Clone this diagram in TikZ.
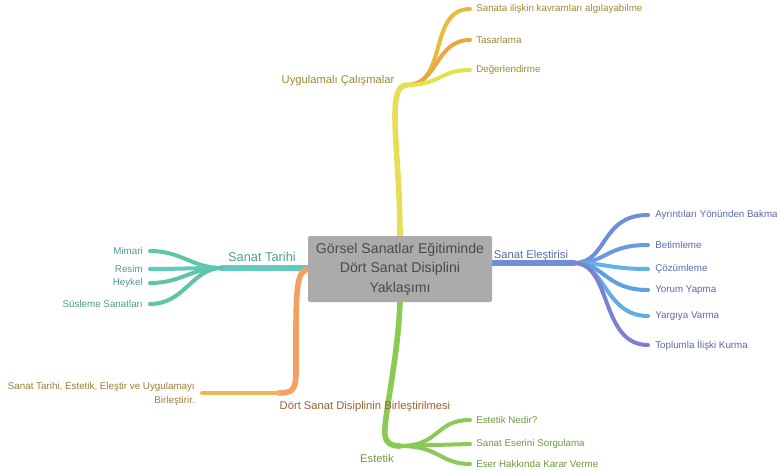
\documentclass[tikz,border=0pt]{standalone}
\usepackage{fontspec}
\setmainfont{Liberation Sans}
\begin{document}
\begin{tikzpicture}[x=0.75pt,y=-0.75pt,
  mainbr/.style={line width=4.2pt, line cap=round},
  leafbr/.style={line width=3pt, line cap=round},
  leaftxt/.style={font=\fontsize{7.35}{8.8}\selectfont, inner sep=0pt},
  brtxt/.style={font=\fontsize{8.4}{9}\selectfont, inner sep=0pt},
  centre/.style={fill=cgray, rounded corners=1.5pt, minimum width=138pt, minimum height=49.5pt,
     align=center, text=ctext, font=\fontsize{10.6}{14.7}\selectfont, inner sep=0pt}]
\definecolor{cgray}{HTML}{ABABAB}
\definecolor{ctext}{HTML}{4A4A4A}
\definecolor{teal1}{HTML}{62C9BE}
\definecolor{teal2}{HTML}{5EC6A6}
\definecolor{tealtxt}{HTML}{4E9C8E}
\definecolor{blue1}{HTML}{6E8FD8}
\definecolor{blue2}{HTML}{6A9BDD}
\definecolor{blue3}{HTML}{62B2EA}
\definecolor{blue4}{HTML}{5E9FE2}
\definecolor{blue5}{HTML}{63ACE7}
\definecolor{blue6}{HTML}{7D80D2}
\definecolor{bluetxt}{HTML}{5869B0}
\definecolor{yel0}{HTML}{E6DF55}
\definecolor{yel1}{HTML}{E9BA3A}
\definecolor{yel2}{HTML}{E9A93E}
\definecolor{yel3}{HTML}{E2E24C}
\definecolor{yeltxt}{HTML}{9A8B35}
\definecolor{ora1}{HTML}{F4A062}
\definecolor{ora2}{HTML}{F2B452}
\definecolor{oratxt}{HTML}{A0602F}
\definecolor{oraleaf}{HTML}{9E7C3A}
\definecolor{grn1}{HTML}{8ACB55}
\definecolor{grntxt}{HTML}{6C9A3C}
\useasboundingbox (0,0) rectangle (777,470);

% junction and branch coordinates
\coordinate (jt) at (222,268);
\coordinate (jb) at (574,263);
\coordinate (jy) at (407,85);
\coordinate (jo) at (279,393);
\coordinate (jg) at (400,446);
\coordinate (ob) at (306,270);

% leaf end coordinates
\coordinate (t1) at (150,251);
\coordinate (t2) at (150,269);
\coordinate (t3) at (150,283);
\coordinate (t4) at (150,304);
\coordinate (b1) at (648,215);
\coordinate (b2) at (648,245);
\coordinate (b3) at (648,269);
\coordinate (b4) at (648,290);
\coordinate (b5) at (648,316);
\coordinate (b6) at (648,345);
\coordinate (y1) at (470,9);
\coordinate (y2) at (470,40);
\coordinate (y3) at (470,70);
\coordinate (o1) at (202,393);
\coordinate (g1) at (470,420);
\coordinate (g2) at (470,444);
\coordinate (g3) at (470,464);

% teal branch
\draw[mainbr, teal1] (308,268) -- (jt);
\draw[leafbr, teal2] (jt) .. controls (192,268) and (182,251) .. (t1);
\draw[leafbr, teal1] (jt) .. controls (190,268) and (180,269) .. (t2);
\draw[leafbr, teal2] (jt) .. controls (190,268) and (182,283) .. (t3);
\draw[leafbr, teal2] (jt) .. controls (192,268) and (185,304) .. (t4);

% blue branch
\draw[mainbr, blue1] (492,263) -- (jb);
\draw[leafbr, blue1] (jb) .. controls (608,263) and (600,215) .. (b1);
\draw[leafbr, blue2] (jb) .. controls (608,263) and (605,245) .. (b2);
\draw[leafbr, blue3] (jb) .. controls (605,263) and (610,269) .. (b3);
\draw[leafbr, blue4] (jb) .. controls (605,263) and (605,290) .. (b4);
\draw[leafbr, blue5] (jb) .. controls (605,263) and (605,316) .. (b5);
\draw[leafbr, blue6] (jb) .. controls (612,263) and (600,345) .. (b6);

% yellow branch
\draw[mainbr, yel0] (400,236) .. controls (400,150) and (385,85) .. (jy);
\draw[leafbr, yel1] (jy) .. controls (448,85) and (428,9) .. (y1);
\draw[leafbr, yel2] (jy) .. controls (438,85) and (435,40) .. (y2);
\draw[leafbr, yel3] (jy) .. controls (440,85) and (440,70) .. (y3);

% orange branch
\draw[mainbr, ora1] (ob) .. controls (296,272) and (296,300) .. (296,340)
   -- (296,372) .. controls (296,390) and (292,393) .. (jo);
\draw[leafbr, ora2] (jo) -- (o1);

% green branch
\draw[mainbr, grn1] (400,302) .. controls (398,360) and (383,420) .. (385,435)
   .. controls (386,444) and (392,446) .. (jg);
\draw[leafbr, grn1] (jg) .. controls (440,446) and (435,420) .. (g1);
\draw[leafbr, grn1] (jg) -- (g2);
\draw[leafbr, grn1] (jg) .. controls (440,446) and (440,464) .. (g3);

% centre
\node[centre] (c) at (400,269) {Görsel Sanatlar Eğitiminde\\Dört Sanat Disiplini\\Yaklaşımı};

% branch labels
\node[brtxt, text=tealtxt, font=\fontsize{9.6}{10}\selectfont] (lt) at (262,257) {Sanat Tarihi};
\node[brtxt, text=bluetxt] (lb) at (531,256) {Sanat Eleştirisi};
\node[brtxt, text=yeltxt] (ly) at (338,81) {Uygulamalı Çalışmalar};
\node[brtxt, text=oratxt] (lo) at (365,407) {Dört Sanat Disiplinin Birleştirilmesi};
\node[brtxt, text=grntxt] (lg) at (377,458) {Estetik};

% leaf labels
\node[leaftxt, text=tealtxt, anchor=east] (nt1) at (143,251) {Mimari};
\node[leaftxt, text=tealtxt, anchor=east] (nt2) at (143,269) {Resim};
\node[leaftxt, text=tealtxt, anchor=east] (nt3) at (143,283) {Heykel};
\node[leaftxt, text=tealtxt, anchor=east] (nt4) at (143,304) {Süsleme Sanatları};

\node[leaftxt, text=bluetxt, anchor=west] (nb1) at (655,215) {Ayrıntıları Yönünden Bakma};
\node[leaftxt, text=bluetxt, anchor=west] (nb2) at (655,245) {Betimleme};
\node[leaftxt, text=bluetxt, anchor=west] (nb3) at (655,269) {Çözümleme};
\node[leaftxt, text=bluetxt, anchor=west] (nb4) at (655,290) {Yorum Yapma};
\node[leaftxt, text=bluetxt, anchor=west] (nb5) at (655,316) {Yargıya Varma};
\node[leaftxt, text=bluetxt, anchor=west] (nb6) at (655,345) {Toplumla İlişki Kurma};

\node[leaftxt, text=yeltxt, anchor=west] (ny1) at (476,9) {Sanata ilişkin kavramları algılayabilme};
\node[leaftxt, text=yeltxt, anchor=west] (ny2) at (476,40) {Tasarlama};
\node[leaftxt, text=yeltxt, anchor=west] (ny3) at (476,70) {Değerlendirme};

\node[leaftxt, text=oraleaf, anchor=east, align=right] (no1) at (195,394)
  {Sanat Tarihi, Estetik, Eleştir ve Uygulamayı\\[1pt]Birleştirir.};

\node[leaftxt, text=grntxt, anchor=west] (ng1) at (476,420) {Estetik Nedir?};
\node[leaftxt, text=grntxt, anchor=west] (ng2) at (476,444) {Sanat Eserini Sorgulama};
\node[leaftxt, text=grntxt, anchor=west] (ng3) at (476,464) {Eser Hakkında Karar Verme};
\end{tikzpicture}
\end{document}
